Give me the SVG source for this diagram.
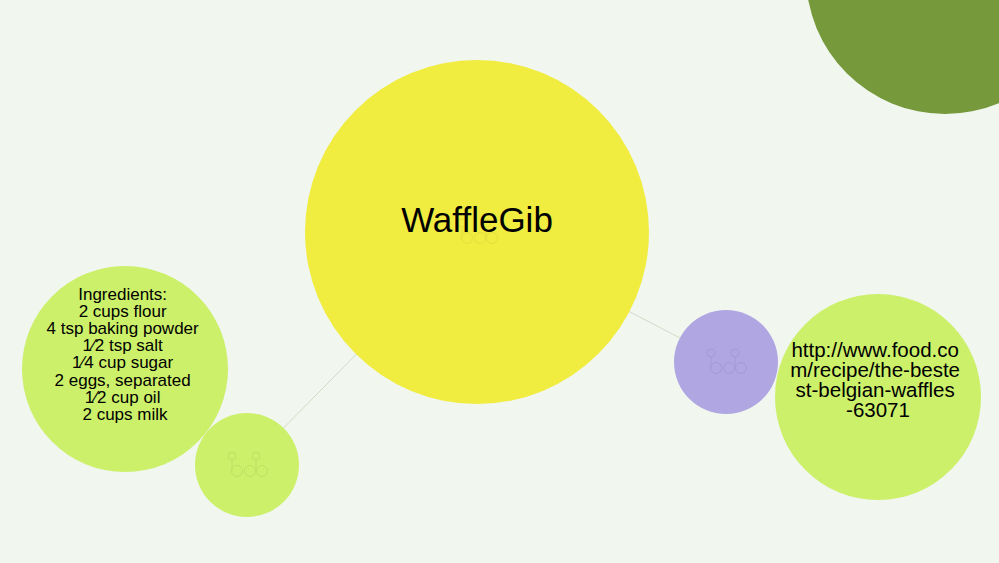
<svg xmlns="http://www.w3.org/2000/svg" width="999" height="563" viewBox="0 0 999 563">
<style>
.lbl{font-family:"Liberation Sans",Arial,sans-serif;fill:#000;text-anchor:middle}
.conn{stroke:#d3dbc6;stroke-width:1;fill:none}
.ico{fill:none;stroke-width:1}
</style>
<defs>
<g id="icon">
<circle cx="-15" cy="-9" r="4"/>
<circle cx="9" cy="-9" r="4"/>
<circle cx="-10" cy="6" r="5.5"/>
<circle cx="3" cy="6" r="5.5"/>
<circle cx="15" cy="6" r="5.5"/>
<line x1="-15" y1="-5" x2="-15" y2="6"/>
<line x1="9" y1="-5" x2="9" y2="6"/>
</g>
</defs>
<rect width="999" height="563" fill="#f1f6ee"/>
<g id="connectors">
<line class="conn" x1="247" y1="465" x2="477" y2="232"/>
<line class="conn" x1="726" y1="362" x2="477" y2="232"/>
</g>
<g id="corner">
<circle cx="945" cy="-25" r="139" fill="#76993b"/>
</g>
<g id="main">
<circle cx="477" cy="232" r="172" fill="#f0ec40"/>
<use href="#icon" x="477" y="232" class="ico" stroke="#e4e03e" fill="none"/>
<text class="lbl" x="477" y="232" font-size="35">WaffleGib</text>
</g>
<g id="ingredients">
<circle cx="125" cy="369" r="103" fill="#ccf06a"/>
<text class="lbl" font-size="17">
<tspan x="125" y="300">Ingredients:</tspan>
<tspan x="125" y="317">2 cups flour</tspan>
<tspan x="125" y="334">4 tsp baking powder</tspan>
<tspan x="125" y="351">1⁄2 tsp salt</tspan>
<tspan x="125" y="368">1⁄4 cup sugar</tspan>
<tspan x="125" y="386">2 eggs, separated</tspan>
<tspan x="125" y="403">1⁄2 cup oil</tspan>
<tspan x="125" y="420">2 cups milk</tspan>
</text>
</g>
<g id="hub-left">
<circle cx="247" cy="465" r="52" fill="#ccf06a"/>
<use href="#icon" x="247" y="465" class="ico" stroke="#bfe064" fill="none"/>
</g>
<g id="hub-right">
<circle cx="726" cy="362" r="52" fill="#afa6e2"/>
<use href="#icon" x="726" y="362" class="ico" stroke="#a49bd5" fill="none"/>
</g>
<g id="url">
<circle cx="878" cy="397" r="103" fill="#ccf06a"/>
<text class="lbl" font-size="20.5">
<tspan x="878" y="357">http://www.food.co</tspan>
<tspan x="878" y="377">m/recipe/the-beste</tspan>
<tspan x="878" y="397">st-belgian-waffles</tspan>
<tspan x="878" y="417">-63071</tspan>
</text>
</g>
</svg>
